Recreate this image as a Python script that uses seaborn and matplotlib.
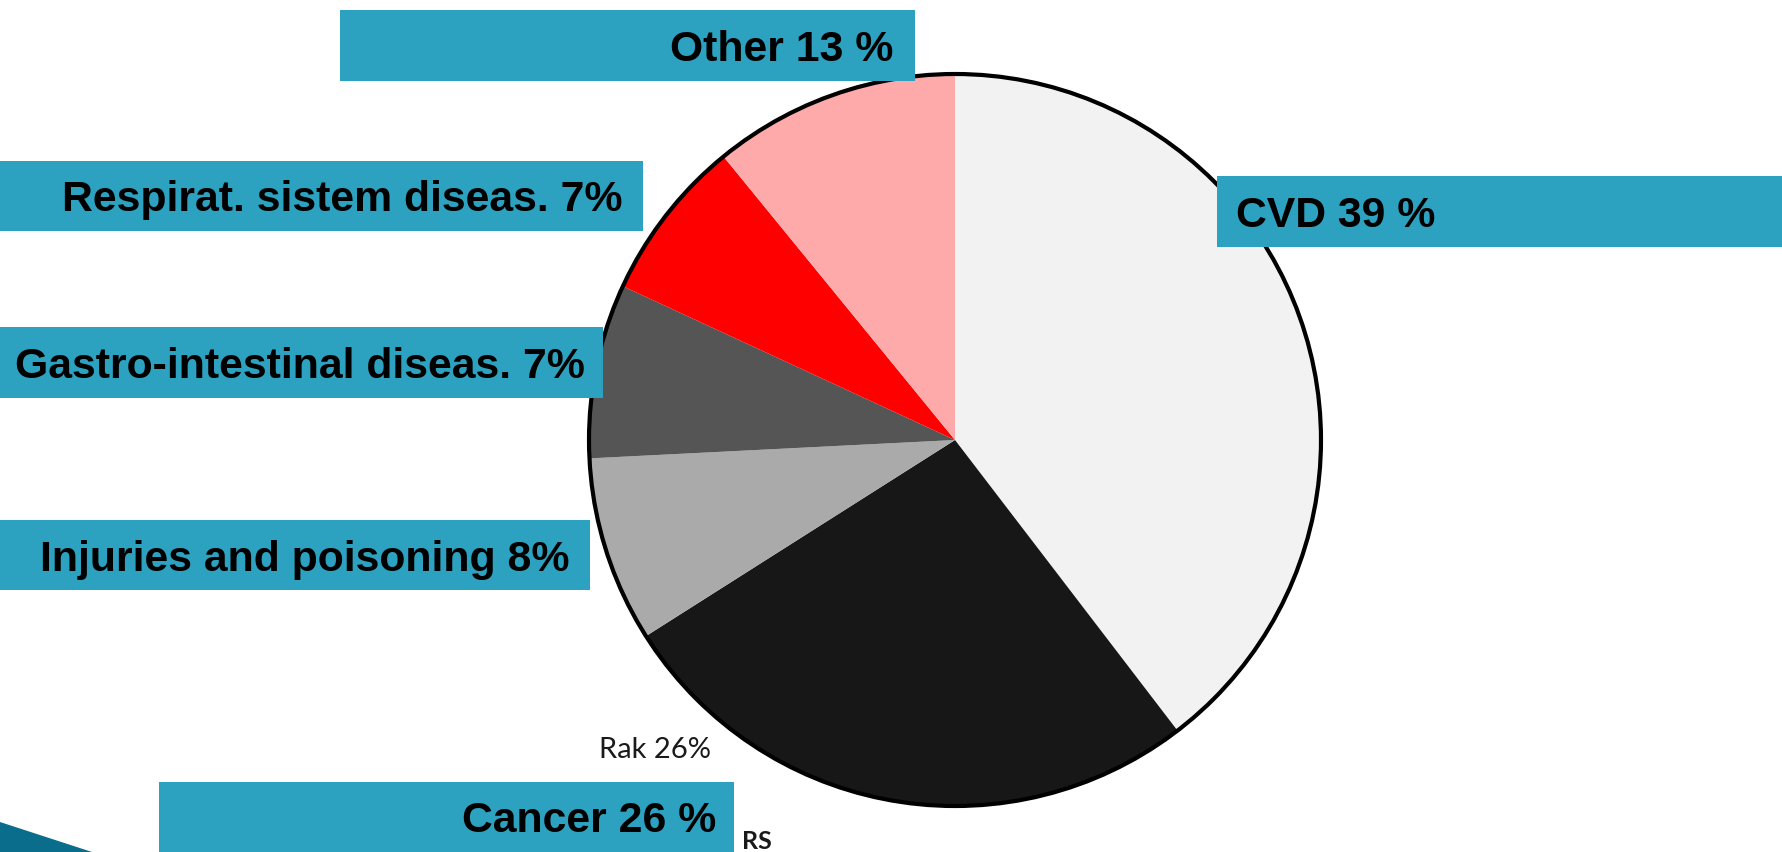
import matplotlib
matplotlib.use("Agg")
import matplotlib.pyplot as plt
import seaborn as sns
from matplotlib.patches import Rectangle, Circle, Polygon

# ---- data ----
categories = ["CVD", "Cancer", "Injuries and poisoning", "Gastro-intestinal diseas.",
              "Respirat. sistem diseas.", "Other"]
values = [39.6, 26.4, 8.2, 7.7, 7.2, 10.9]
label_texts = ["CVD 39 %", "Cancer 26 %", "Injuries and poisoning 8%",
               "Gastro-intestinal diseas. 7%", "Respirat. sistem diseas. 7%", "Other 13 %"]
slice_colors = ["#f2f2f2", "#171717", "#aaaaaa", "#555555", "#ff0000", "#ffaaaa"]
inner_note = "Rak 26%"
corner_note = "RS"

sns.set_theme(style="white")
plt.rcParams['font.family'] = ['Liberation Sans', 'DejaVu Sans']

W, H = 1783, 852
fig = plt.figure(figsize=(W / 100, H / 100), dpi=100)
ax = fig.add_axes([0, 0, 1, 1])

def Y(y):  # top-down pixel to axis coordinate
    return H - y

cx, cy, r = 955, 440, 366
palette = sns.color_palette(slice_colors)
ax.pie(values, colors=palette, startangle=90, counterclock=False,
       center=(cx, Y(cy)), radius=r, wedgeprops=dict(linewidth=0), frame=True)
ax.add_patch(Circle((cx, Y(cy)), r, fill=False, edgecolor="black", linewidth=3.0, zorder=3))

box_color = "#2ca2c0"
# boxes: (x0, x1, ytop, ybottom, text, text_x, ha)
boxes = [
    (340, 915, 10, 81, label_texts[5], 893, "right"),
    (1217, 1790, 176, 247, label_texts[0], 1236, "left"),
    (-5, 643, 161, 231, label_texts[4], 623, "right"),
    (-5, 603, 327, 398, label_texts[3], 585, "right"),
    (-5, 590, 520, 590, label_texts[2], 570, "right"),
    (159, 734, 782, 860, label_texts[1], 716, "right"),
]
for x0, x1, yt, yb, txt, tx, ha in boxes:
    ax.add_patch(Rectangle((x0, Y(yb)), x1 - x0, yb - yt, facecolor=box_color,
                           edgecolor="none", zorder=4))
    yc = (yt + min(yb, 852)) / 2
    ax.text(tx, Y(yc), txt, ha=ha, va="center_baseline", fontsize=30.8,
            fontweight="bold", color="black", zorder=5)

ax.text(599, Y(758), inner_note, ha="left", va="baseline", fontsize=21,
        family=["Lato", "DejaVu Sans"], color="#1a1a1a", zorder=5)
ax.text(742, Y(849), corner_note, ha="left", va="baseline", fontsize=18,
        fontweight="bold", family=["Lato", "DejaVu Sans"], color="#1a1a1a", zorder=5)

# corner decoration
ax.add_patch(Polygon([(0, Y(822)), (92, Y(852)), (0, Y(852))], closed=True,
                     facecolor="#0b6d8c", edgecolor="none", zorder=2))

ax.set_xlim(0, W)
ax.set_ylim(0, H)
ax.set_aspect("equal")
ax.axis("off")
fig.savefig("out.png", dpi=100)
